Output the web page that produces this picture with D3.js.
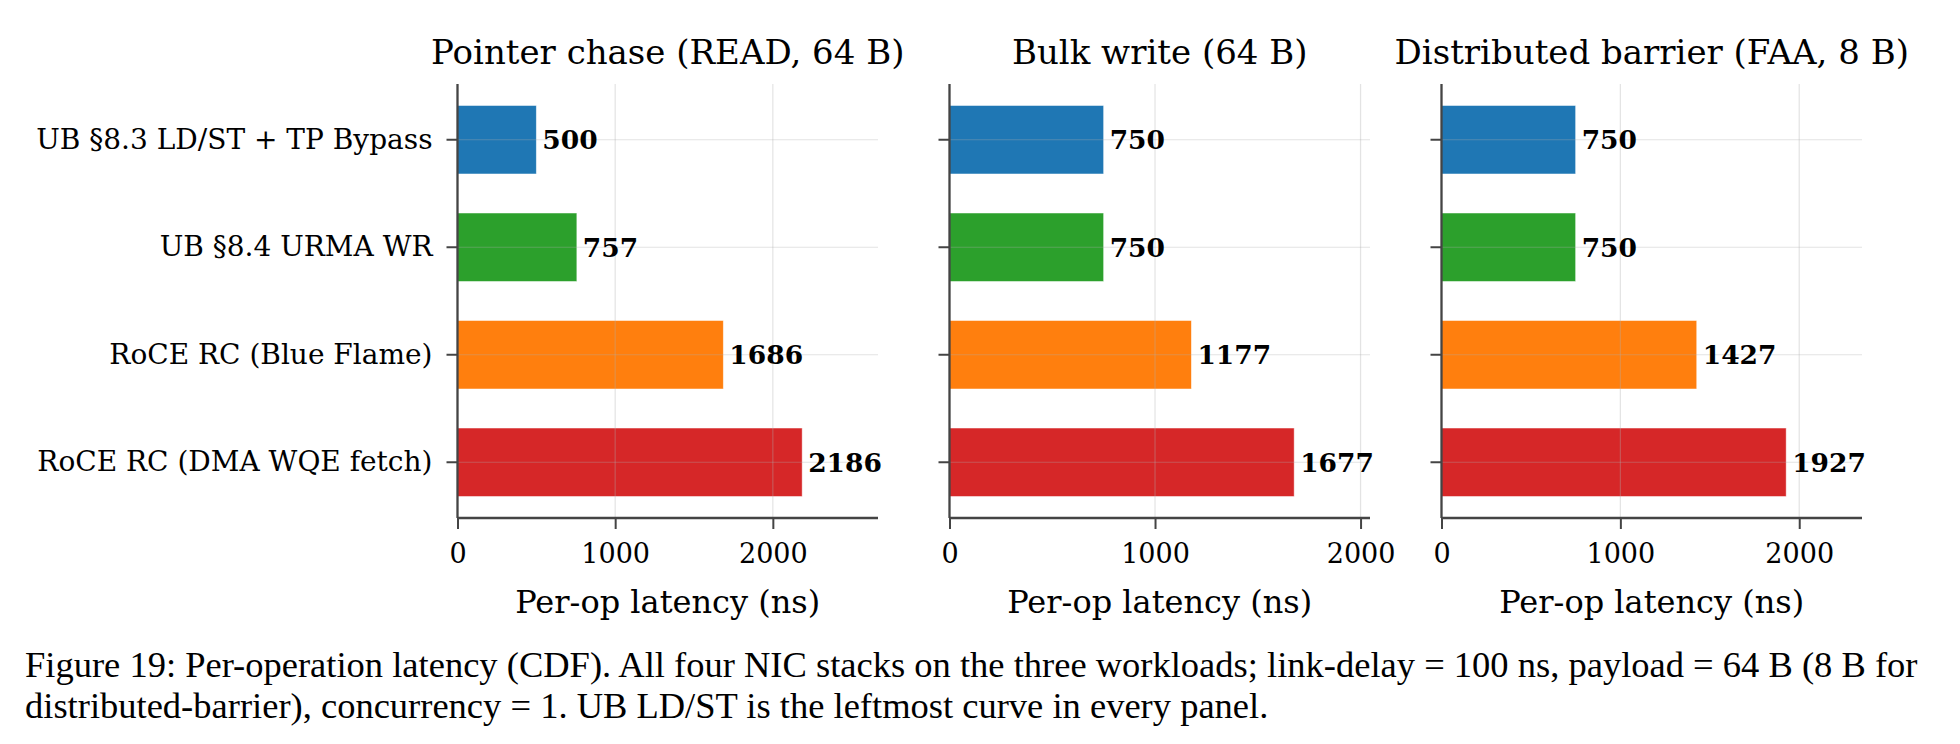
<!DOCTYPE html>
<html>
<head>
<meta charset="utf-8">
<script src="https://cdn.jsdelivr.net/npm/d3@7"></script>
<style>
  body { margin: 0; background: #fff; }
  svg text { font-family: "DejaVu Serif", serif; }
</style>
</head>
<body>
<script>
// per-op latency bars, three workloads

var categories = [
    "UB §8.3 LD/ST + TP Bypass",
    "UB §8.4 URMA WR",
    "RoCE RC (Blue Flame)",
    "RoCE RC (DMA WQE fetch)"
];
var colors = ["#1f77b4", "#2ca02c", "#ff7f0e", "#d62728"];

var panelTitles = ["Pointer chase (READ, 64 B)", "Bulk write (64 B)", "Distributed barrier (FAA, 8 B)"];
var pointerChase = [500, 757, 1686, 2186];
var bulkWrite = [750, 750, 1177, 1677];
var barrier = [750, 750, 1427, 1927];
var xTicks = [0, 1000, 2000];

var panels = [pointerChase, bulkWrite, barrier];

var caption = [
    "Figure 19: Per-operation latency (CDF). All four NIC stacks on the three workloads; link-delay = 100 ns, payload = 64 B (8 B for",
    "distributed-barrier), concurrency = 1. UB LD/ST is the leftmost curve in every panel."
];

var W = 1960, H = 744;
var plotTop = 84, plotBottom = 518;
var panelLeft = [457.5, 949.5, 1441.5],
    panelWidth = 420.5;
var axisColor = '#444';

var svg = d3.select('body')
    .append('svg')
    .attr('width', W)
    .attr('height', H);

var y = d3.scaleBand()
    .domain(categories)
    .range([plotTop, plotBottom])
    .paddingInner(0.363)
    .paddingOuter(0.2);

panels.forEach(function(vals, p) {
    var x = d3.scaleLinear()
        .domain([0, d3.max(vals) * 1.22])
        .range([0, panelWidth]);

    var g = svg.append('g')
        .attr('transform', 'translate(' + panelLeft[p] + ',0)');

    // bars
    g.selectAll('rect.bar')
        .data(vals)
        .enter().append('rect')
        .attr('class', 'bar')
        .attr('x', x(0))
        .attr('y', function(d, i) { return y(categories[i]); })
        .attr('width', function(d) { return x(d) - x(0); })
        .attr('height', y.bandwidth())
        .attr('fill', function(d, i) { return colors[i]; })
        .attr('stroke', '#fff')
        .attr('stroke-opacity', 0.6)
        .attr('stroke-width', 0.8);

    // grid on top of bars
    g.selectAll('line.vgrid')
        .data(xTicks)
        .enter().append('line')
        .attr('x1', function(d) { return x(d); })
        .attr('x2', function(d) { return x(d); })
        .attr('y1', plotTop)
        .attr('y2', plotBottom)
        .attr('stroke', '#b0b0b0')
        .attr('stroke-opacity', 0.35)
        .attr('stroke-width', 1.2);

    g.selectAll('line.hgrid')
        .data(categories)
        .enter().append('line')
        .attr('x1', 0)
        .attr('x2', panelWidth)
        .attr('y1', function(d) { return y(d) + y.bandwidth() / 2; })
        .attr('y2', function(d) { return y(d) + y.bandwidth() / 2; })
        .attr('stroke', '#b0b0b0')
        .attr('stroke-opacity', 0.35)
        .attr('stroke-width', 1.2);

    // value labels
    g.selectAll('text.val')
        .data(vals)
        .enter().append('text')
        .attr('x', function(d) { return x(d) + 6; })
        .attr('y', function(d, i) { return y(categories[i]) + y.bandwidth() / 2; })
        .attr('dy', '0.35em')
        .style('font-size', '26.5px')
        .style('font-weight', 'bold')
        .text(function(d) { return d; });

    // axes
    var xAxis = d3.axisBottom(x).tickValues(xTicks).tickFormat(d3.format('d'))
        .tickSize(11).tickPadding(15);
    var gx = g.append('g')
        .attr('transform', 'translate(0,' + plotBottom + ')')
        .call(xAxis);
    gx.select('.domain').attr('stroke', axisColor).attr('stroke-width', 2.3)
        .attr('d', 'M0,0H' + panelWidth);
    gx.selectAll('.tick line').attr('stroke', axisColor).attr('stroke-width', 2);
    gx.selectAll('.tick text')
        .style('font-family', '"DejaVu Serif", serif')
        .style('font-size', '27px')
        .attr('fill', '#000');

    var yAxis = d3.axisLeft(y).tickSize(11).tickPadding(14);
    if (p > 0) yAxis.tickFormat('');
    var gy = g.append('g').call(yAxis);
    gy.select('.domain').attr('stroke', axisColor).attr('stroke-width', 2.3)
        .attr('d', 'M0,' + plotTop + 'V' + plotBottom);
    gy.selectAll('.tick line').attr('stroke', axisColor).attr('stroke-width', 2);
    gy.selectAll('.tick text')
        .style('font-family', '"DejaVu Serif", serif')
        .style('font-size', '28px')
        .attr('fill', '#000');

    // titles
    g.append('text')
        .attr('x', panelWidth / 2)
        .attr('y', 52)
        .attr('dy', '0.35em')
        .style('text-anchor', 'middle')
        .style('font-size', '34px')
        .text(panelTitles[p]);

    g.append('text')
        .attr('x', panelWidth / 2)
        .attr('y', 602)
        .attr('dy', '0.35em')
        .style('text-anchor', 'middle')
        .style('font-size', '32px')
        .text('Per-op latency (ns)');
});

svg.selectAll('text.caption')
    .data(caption)
    .enter().append('text')
    .attr('x', 25)
    .attr('y', function(d, i) { return 664 + i * 41; })
    .attr('dy', '0.35em')
    .style('font-family', '"Liberation Serif", "Times New Roman", serif')
    .style('font-size', '36.5px')
    .text(function(d) { return d; });
</script>
</body>
</html>
